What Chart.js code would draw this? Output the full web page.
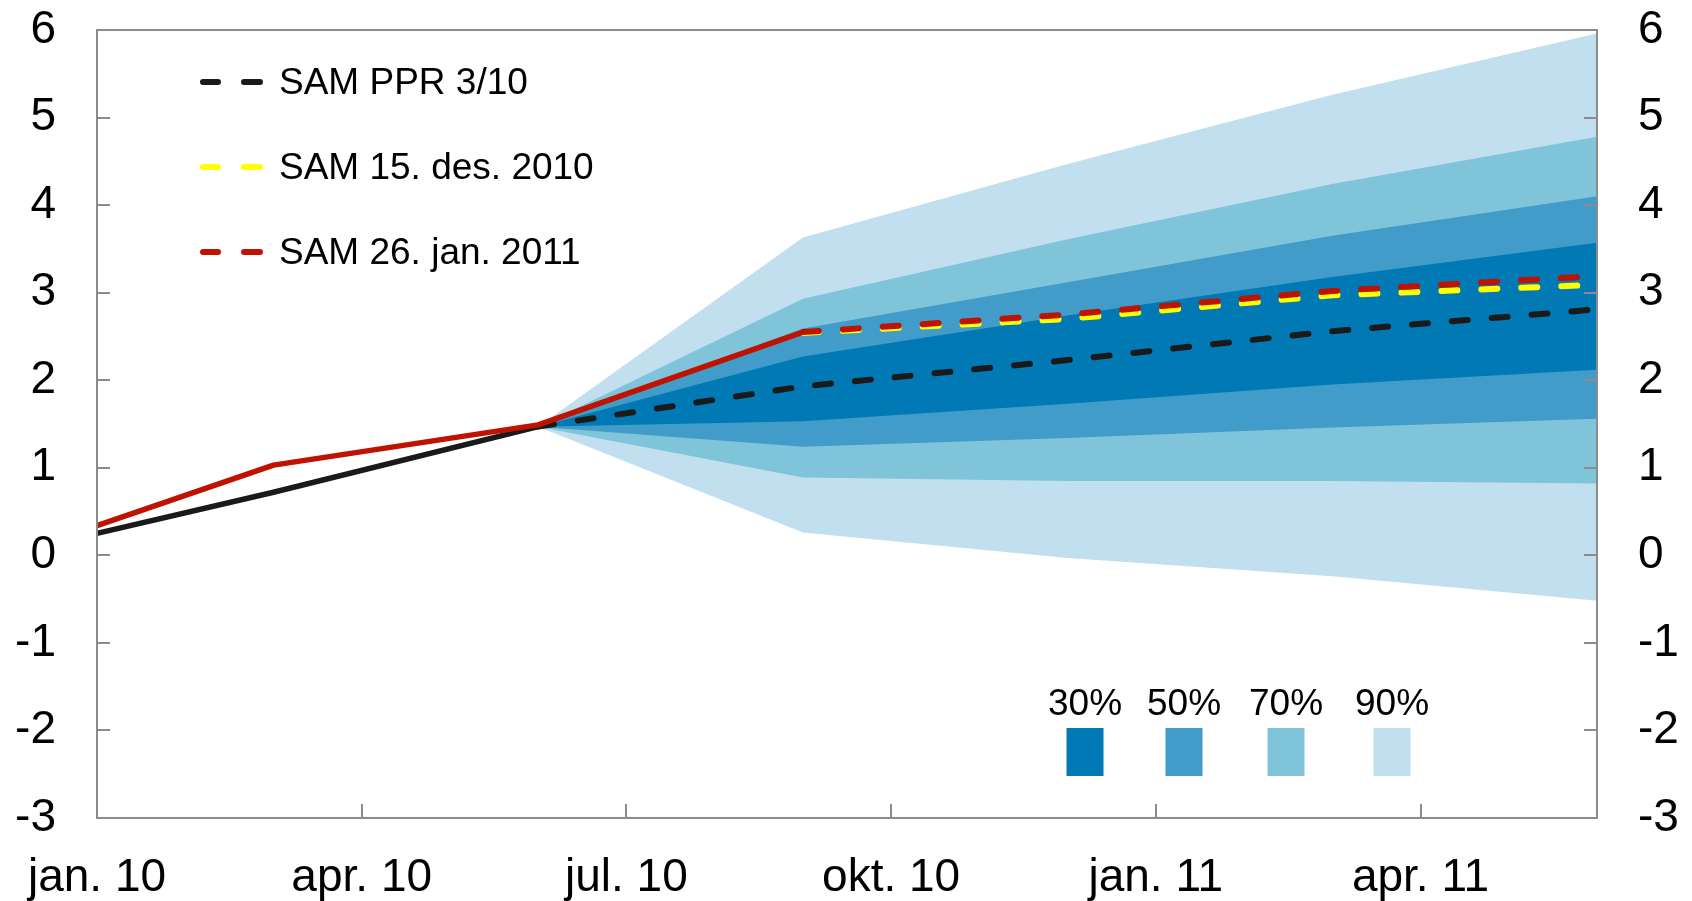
<!DOCTYPE html>
<html>
<head>
<meta charset="utf-8">
<script src="https://cdn.jsdelivr.net/npm/chart.js@4.4.0/dist/chart.umd.min.js"></script>
<style>
  html, body { margin: 0; padding: 0; background: #fff; }
  #wrap { width: 1692px; height: 901px; }
</style>
</head>
<body>
<div id="wrap"><canvas id="chart" width="1692" height="901"></canvas></div>
<script>
// monthly category axis, jan. 10 .. jun. 11
const months = ['jan. 10', 'feb. 10', 'mar. 10', 'apr. 10', 'mai 10', 'jun. 10', 'jul. 10', 'aug. 10', 'sep. 10',
    'okt. 10', 'nov. 10', 'des. 10', 'jan. 11', 'feb. 11', 'mar. 11', 'apr. 11', 'mai 11', 'jun. 11'];
const tickLabels = ['jan. 10', 'apr. 10', 'jul. 10', 'okt. 10', 'jan. 11', 'apr. 11'];

const histDates = ['jan. 10', 'mar. 10', 'jun. 10'];
const fanDates = ['jun. 10', 'sep. 10', 'des. 10', 'mar. 11', 'jun. 11'];
const jan11HistDates = ['jan. 10', 'mar. 10', 'jun. 10', 'sep. 10'];
const pathDates = ['sep. 10', 'des. 10', 'mar. 11', 'jun. 11'];

// SAM PPR 3/10
const pprHist = [0.25, 0.72, 1.47];
const pprPath = [1.47, 1.93, 2.23, 2.56, 2.81];
// SAM 26. jan. 2011
const jan11Hist = [0.34, 1.03, 1.49, 2.55];
const jan11Path = [2.55, 2.75, 3.02, 3.19];
// SAM 15. des. 2010
const des10Path = [2.54, 2.70, 2.97, 3.09];

// uncertainty fan, on fanDates
const fan90Hi = [1.47, 3.63, 4.47, 5.26, 5.96];
const fan90Lo = [1.47, 0.26, -0.03, -0.24, -0.52];
const fan70Hi = [1.47, 2.93, 3.61, 4.24, 4.78];
const fan70Lo = [1.47, 0.89, 0.85, 0.85, 0.82];
const fan50Hi = [1.47, 2.59, 3.12, 3.65, 4.10];
const fan50Lo = [1.47, 1.24, 1.34, 1.46, 1.56];
const fan30Hi = [1.47, 2.27, 2.74, 3.18, 3.57];
const fan30Lo = [1.47, 1.53, 1.73, 1.95, 2.12];

const bandLabels = ['30%', '50%', '70%', '90%'];
const bandColors = ['#0079b5', '#419cc9', '#80c4da', '#c1dfef'];

const BLACK = '#1a1a1a', RED = '#bf1200', YELLOW = '#ffff00';
const FONT = '"Liberation Sans", Arial, sans-serif';

const pts = (dates, vals) => dates.map((d, i) => ({ x: d, y: vals[i] }));

function lineSet(data, color, dashed) {
    return {
        data, borderColor: color, borderWidth: dashed ? 6 : 5.5,
        borderDash: dashed ? [16, 24] : [], borderCapStyle: dashed ? 'round' : 'butt',
        borderJoinStyle: 'round', pointRadius: 0, fill: false, tension: 0
    };
}
function bandSet(data, color) {
    return {
        data, borderColor: 'transparent', borderWidth: 0, backgroundColor: color,
        pointRadius: 0, fill: color ? '+1' : false, tension: 0
    };
}

const framePlugin = {
    id: 'frame',
    afterDatasetsDraw(chart) {
        const { ctx, chartArea: a, scales } = chart;
        ctx.save();
        ctx.strokeStyle = '#8c8c8c';
        ctx.lineWidth = 2;
        ctx.beginPath();
        scales.y.ticks.forEach(t => {
            const y = Math.round(scales.y.getPixelForValue(t.value));
            ctx.moveTo(a.left, y); ctx.lineTo(a.left + 13, y);
            ctx.moveTo(a.right, y); ctx.lineTo(a.right - 13, y);
        });
        tickLabels.slice(1).forEach(l => {
            const x = Math.round(scales.x.getPixelForValue(months.indexOf(l)));
            ctx.moveTo(x, a.bottom); ctx.lineTo(x, a.bottom - 14);
        });
        ctx.stroke();
        ctx.strokeRect(a.left, a.top, a.right - a.left, a.bottom - a.top);
        ctx.restore();
    }
};

const legendPlugin = {
    id: 'legends',
    afterDraw(chart) {
        const ctx = chart.ctx;
        ctx.save();
        ctx.font = '37px ' + FONT;
        ctx.fillStyle = '#000';
        ctx.textBaseline = 'middle';
        const items = [['SAM PPR 3/10', BLACK], ['SAM 15. des. 2010', YELLOW], ['SAM 26. jan. 2011', RED]];
        items.forEach(([label, color], i) => {
            const y = 82 + i * 85;
            ctx.strokeStyle = color;
            ctx.lineWidth = 6;
            ctx.lineCap = 'round';
            ctx.beginPath();
            ctx.moveTo(203, y); ctx.lineTo(218, y);
            ctx.moveTo(244, y); ctx.lineTo(260, y);
            ctx.stroke();
            ctx.textAlign = 'left';
            ctx.fillText(label, 279, y + 2);
        });
        const centers = [1085, 1184, 1286, 1392];
        ctx.textAlign = 'center';
        ctx.textBaseline = 'alphabetic';
        bandLabels.forEach((label, i) => {
            ctx.fillStyle = bandColors[i];
            ctx.fillRect(centers[i] - 18.5, 728, 37, 48);
            ctx.fillStyle = '#000';
            ctx.fillText(label, centers[i], 715);
        });
        ctx.restore();
    }
};

const yAxis = pos => ({
    position: pos,
    min: -3, max: 6,
    grid: { display: false, drawTicks: false },
    border: { display: false },
    ticks: { stepSize: 1, padding: 41, color: '#000', font: { family: FONT, size: 46 } },
    afterFit: s => { s.width = 82; s.paddingTop = 0; s.paddingBottom = 0; }
});

new Chart(document.getElementById('chart'), {
    type: 'line',
    data: {
        labels: months,
        datasets: [
            lineSet(pts(jan11HistDates, jan11Hist), RED, false),
            lineSet(pts(pathDates, jan11Path), RED, true),
            lineSet(pts(pathDates, des10Path), YELLOW, true),
            lineSet(pts(histDates, pprHist), BLACK, false),
            lineSet(pts(fanDates, pprPath), BLACK, true),
            bandSet(pts(fanDates, fan30Hi), bandColors[0]),
            bandSet(pts(fanDates, fan30Lo), null),
            bandSet(pts(fanDates, fan50Hi), bandColors[1]),
            bandSet(pts(fanDates, fan50Lo), null),
            bandSet(pts(fanDates, fan70Hi), bandColors[2]),
            bandSet(pts(fanDates, fan70Lo), null),
            bandSet(pts(fanDates, fan90Hi), bandColors[3]),
            bandSet(pts(fanDates, fan90Lo), null)
        ]
    },
    options: {
        responsive: false,
        devicePixelRatio: 1,
        animation: false,
        layout: { padding: { left: 15, right: 13, top: 30, bottom: 0 } },
        plugins: { legend: { display: false }, tooltip: { enabled: false } },
        scales: {
            x: {
                offset: false,
                grid: { display: false, drawTicks: false },
                border: { display: false },
                ticks: {
                    autoSkip: false, maxRotation: 0, minRotation: 0, padding: 33,
                    color: '#000', font: { family: FONT, size: 46 },
                    callback: (v, i) => tickLabels.includes(months[i]) ? months[i] : ''
                },
                afterFit: s => { s.height = 83; s.paddingLeft = 0; s.paddingRight = 0; }
            },
            y: yAxis('left'),
            y2: yAxis('right')
        }
    },
    plugins: [framePlugin, legendPlugin]
});
</script>
</body>
</html>
